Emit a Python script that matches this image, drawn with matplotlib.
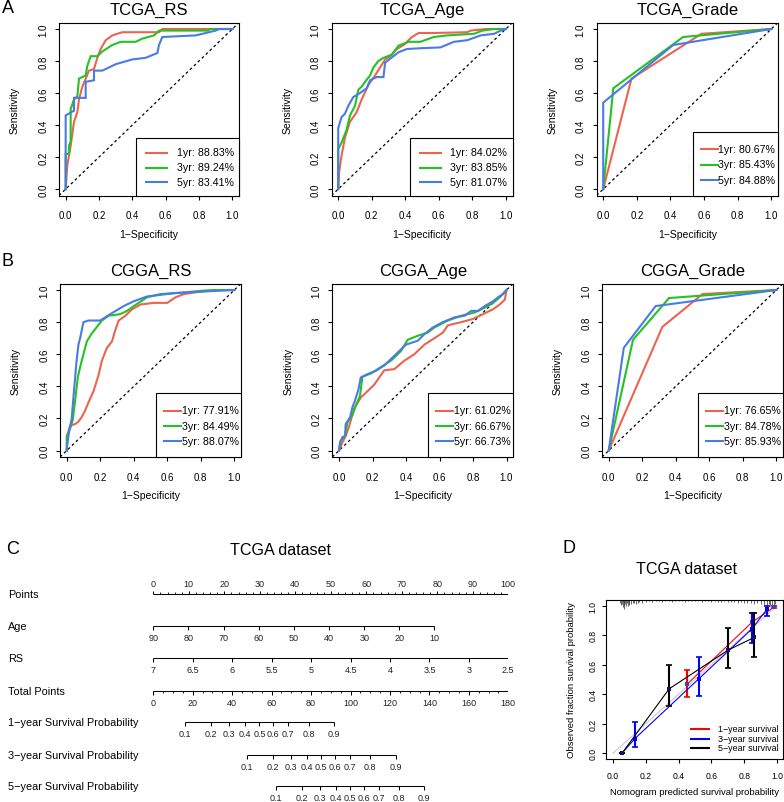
import numpy as np
import matplotlib
matplotlib.use('Agg')
import matplotlib.pyplot as plt
from matplotlib.lines import Line2D
from matplotlib.patches import Rectangle

plt.rcParams['font.family'] = ['Liberation Sans', 'DejaVu Sans']

# ---------------------------------------------------------------- data
roc_years = ['1yr', '3yr', '5yr']
roc_colors = ['#EC6350', '#22C322', '#4A7AE6']

auc_tcga_rs = [88.83, 89.24, 83.41]
auc_tcga_age = [84.02, 83.85, 81.07]
auc_tcga_grade = [80.67, 85.43, 84.88]
auc_cgga_rs = [77.91, 84.49, 88.07]
auc_cgga_age = [61.02, 66.67, 66.73]
auc_cgga_grade = [76.65, 84.78, 85.93]

# TCGA_RS
tcga_rs_fpr_1 = [0, 0.01, 0.03, 0.05, 0.07, 0.08, 0.10, 0.12, 0.14, 0.17, 0.19, 0.21, 0.24, 0.28, 0.34, 0.56, 0.58, 1.0]
tcga_rs_tpr_1 = [0, 0.15, 0.27, 0.42, 0.48, 0.56, 0.64, 0.69, 0.74, 0.75, 0.82, 0.875, 0.93, 0.96, 0.98, 0.98, 1.0, 1.0]
tcga_rs_fpr_3 = [0, 0, 0.02, 0.02, 0.03, 0.03, 0.05, 0.07, 0.08, 0.12, 0.13, 0.15, 0.19, 0.22, 0.28, 0.33, 0.42, 0.46, 0.53, 0.56, 0.85, 0.87, 1.0]
tcga_rs_tpr_3 = [0, 0.22, 0.22, 0.27, 0.30, 0.50, 0.56, 0.58, 0.69, 0.71, 0.77, 0.83, 0.83, 0.86, 0.90, 0.92, 0.92, 0.94, 0.96, 0.99, 0.99, 1.0, 1.0]
tcga_rs_fpr_5 = [0, 0, 0.05, 0.05, 0.12, 0.12, 0.17, 0.17, 0.22, 0.30, 0.40, 0.48, 0.55, 0.56, 0.58, 0.78, 0.90, 0.92, 1.0]
tcga_rs_tpr_5 = [0, 0.46, 0.49, 0.57, 0.57, 0.67, 0.68, 0.74, 0.74, 0.78, 0.81, 0.82, 0.85, 0.90, 0.95, 0.96, 0.99, 1.0, 1.0]

# TCGA_Age
tcga_age_fpr_1 = [0, 0.006, 0.02, 0.04, 0.07, 0.11, 0.14, 0.18, 0.22, 0.25, 0.28, 0.31, 0.35, 0.39, 0.44, 0.48, 0.57, 0.77, 0.79, 0.88, 1.0]
tcga_age_tpr_1 = [0, 0.11, 0.21, 0.32, 0.42, 0.48, 0.56, 0.65, 0.71, 0.76, 0.81, 0.83, 0.875, 0.90, 0.95, 0.975, 0.975, 0.98, 0.99, 1.0, 1.0]
tcga_age_fpr_3 = [0, 0, 0.02, 0.05, 0.07, 0.10, 0.12, 0.14, 0.16, 0.19, 0.21, 0.24, 0.27, 0.32, 0.36, 0.42, 0.49, 0.57, 0.65, 0.81, 0.86, 0.93, 1.0]
tcga_age_tpr_3 = [0, 0.25, 0.29, 0.37, 0.46, 0.52, 0.62, 0.64, 0.67, 0.71, 0.76, 0.80, 0.82, 0.84, 0.896, 0.92, 0.92, 0.95, 0.96, 0.97, 0.99, 1.0, 1.0]
tcga_age_fpr_5 = [0, 0, 0.02, 0.04, 0.06, 0.09, 0.13, 0.17, 0.19, 0.23, 0.27, 0.28, 0.36, 0.41, 0.49, 0.61, 0.69, 0.77, 0.85, 0.93, 0.97, 1.0]
tcga_age_tpr_5 = [0, 0.38, 0.45, 0.47, 0.52, 0.575, 0.60, 0.63, 0.68, 0.70, 0.70, 0.79, 0.855, 0.875, 0.88, 0.885, 0.92, 0.93, 0.96, 0.97, 0.99, 1.0]

# TCGA_Grade
tcga_grade_fpr_1 = [0, 0.168, 0.584, 1.0]
tcga_grade_tpr_1 = [0, 0.69, 0.97, 1.0]
tcga_grade_fpr_3 = [0, 0.06, 0.475, 1.0]
tcga_grade_tpr_3 = [0, 0.63, 0.95, 1.0]
tcga_grade_fpr_5 = [0, 0, 0.416, 1.0]
tcga_grade_tpr_5 = [0, 0.54, 0.90, 1.0]

# CGGA_RS
cgga_rs_fpr_1 = [0, 0.005, 0.02, 0.05, 0.07, 0.09, 0.11, 0.13, 0.16, 0.19, 0.21, 0.24, 0.27, 0.29, 0.31, 0.35, 0.39, 0.44, 0.52, 0.60, 0.65, 0.70, 0.80, 0.89, 1.0]
cgga_rs_tpr_1 = [0, 0.10, 0.155, 0.165, 0.18, 0.21, 0.25, 0.30, 0.37, 0.47, 0.56, 0.64, 0.68, 0.75, 0.81, 0.84, 0.88, 0.91, 0.92, 0.92, 0.955, 0.975, 0.99, 1.0, 1.0]
cgga_rs_fpr_3 = [0, 0, 0.02, 0.036, 0.05, 0.066, 0.08, 0.10, 0.12, 0.15, 0.18, 0.21, 0.25, 0.32, 0.36, 0.40, 0.48, 0.56, 0.70, 0.80, 0.89, 1.0]
cgga_rs_tpr_3 = [0, 0.09, 0.135, 0.19, 0.31, 0.455, 0.52, 0.60, 0.68, 0.73, 0.77, 0.81, 0.84, 0.85, 0.87, 0.90, 0.955, 0.975, 0.985, 0.995, 1.0, 1.0]
cgga_rs_fpr_5 = [0, 0.006, 0.015, 0.03, 0.04, 0.05, 0.057, 0.07, 0.08, 0.10, 0.13, 0.20, 0.26, 0.34, 0.40, 0.48, 0.64, 0.80, 1.0]
cgga_rs_tpr_5 = [0, 0.06, 0.124, 0.20, 0.33, 0.45, 0.54, 0.66, 0.70, 0.80, 0.81, 0.81, 0.85, 0.90, 0.93, 0.96, 0.98, 0.99, 1.0]

# CGGA_Age
cgga_age_fpr_1 = [0, 0.02, 0.04, 0.06, 0.09, 0.13, 0.17, 0.21, 0.24, 0.27, 0.33, 0.39, 0.45, 0.51, 0.57, 0.62, 0.65, 0.73, 0.80, 0.86, 0.92, 0.96, 0.99, 1.0]
cgga_age_tpr_1 = [0, 0.05, 0.09, 0.15, 0.26, 0.33, 0.37, 0.41, 0.455, 0.50, 0.507, 0.56, 0.60, 0.66, 0.70, 0.735, 0.78, 0.80, 0.82, 0.85, 0.88, 0.91, 0.94, 1.0]
cgga_age_fpr_3 = [0, 0.01, 0.036, 0.05, 0.08, 0.10, 0.125, 0.14, 0.19, 0.25, 0.31, 0.37, 0.41, 0.47, 0.53, 0.57, 0.65, 0.73, 0.81, 0.87, 0.92, 0.96, 1.0]
cgga_age_tpr_3 = [0, 0.06, 0.09, 0.175, 0.22, 0.28, 0.34, 0.46, 0.48, 0.52, 0.56, 0.62, 0.69, 0.715, 0.735, 0.767, 0.81, 0.84, 0.86, 0.89, 0.92, 0.955, 1.0]
cgga_age_fpr_5 = [0, 0.006, 0.02, 0.036, 0.04, 0.066, 0.08, 0.095, 0.116, 0.13, 0.17, 0.22, 0.27, 0.32, 0.36, 0.40, 0.47, 0.51, 0.56, 0.62, 0.69, 0.75, 0.79, 0.83, 0.87, 0.92, 0.95, 0.98, 1.0]
cgga_age_tpr_5 = [0, 0.05, 0.083, 0.093, 0.166, 0.207, 0.27, 0.31, 0.38, 0.455, 0.476, 0.497, 0.53, 0.58, 0.62, 0.66, 0.684, 0.725, 0.767, 0.80, 0.83, 0.84, 0.87, 0.87, 0.90, 0.93, 0.955, 0.975, 1.0]

# CGGA_Grade
cgga_grade_fpr_1 = [0, 0.32, 0.56, 1.0]
cgga_grade_tpr_1 = [0, 0.77, 0.975, 1.0]
cgga_grade_fpr_3 = [0, 0.145, 0.36, 1.0]
cgga_grade_tpr_3 = [0, 0.69, 0.95, 1.0]
cgga_grade_fpr_5 = [0, 0.09, 0.28, 1.0]
cgga_grade_tpr_5 = [0, 0.64, 0.90, 1.0]

# Nomogram (TCGA)
nomo_points_ticks = [0, 10, 20, 30, 40, 50, 60, 70, 80, 90, 100]
nomo_age_ticks = [90, 80, 70, 60, 50, 40, 30, 20, 10]
nomo_age_points = [0.0, 9.9, 19.8, 29.7, 39.6, 49.5, 59.4, 69.3, 79.2]
nomo_rs_ticks = ['7', '6.5', '6', '5.5', '5', '4.5', '4', '3.5', '3', '2.5']
nomo_rs_points = [0.0, 11.1, 22.2, 33.3, 44.4, 55.6, 66.7, 77.8, 88.9, 100.0]
nomo_total_ticks = [0, 20, 40, 60, 80, 100, 120, 140, 160, 180]
nomo_surv_ticks = ['0.1', '0.2', '0.3', '0.4', '0.5', '0.6', '0.7', '0.8', '0.9']
nomo_surv1_total = [16.1, 29.3, 38.5, 46.5, 53.8, 60.9, 68.4, 79.0, 91.8]
nomo_surv3_total = [47.4, 60.5, 69.8, 77.8, 85.0, 92.3, 99.7, 109.9, 122.9]
nomo_surv5_total = [62.1, 75.3, 84.5, 92.5, 99.7, 107.0, 114.4, 124.6, 137.4]

# Calibration (TCGA)
cal1_pred = [0.453, 0.848, 0.985]
cal1_obs = [0.469, 0.888, 0.993]
cal1_lo = [0.383, 0.830, 0.985]
cal1_hi = [0.564, 0.950, 1.000]
cal3_pred = [0.055, 0.134, 0.522, 0.845, 0.940]
cal3_obs = [0.000, 0.100, 0.503, 0.840, 0.977]
cal3_lo = [0.000, 0.045, 0.390, 0.750, 0.930]
cal3_hi = [0.000, 0.210, 0.650, 0.950, 1.000]
cal5_pred = [0.055, 0.343, 0.703, 0.862]
cal5_obs = [0.000, 0.437, 0.700, 0.785]
cal5_lo = [0.000, 0.322, 0.577, 0.654]
cal5_hi = [0.000, 0.600, 0.848, 0.950]
rug_pred = [0.04, 0.05, 0.055, 0.06, 0.065, 0.07, 0.075, 0.08, 0.085, 0.09,
            0.095, 0.10, 0.11, 0.12, 0.13, 0.14, 0.15, 0.16, 0.18, 0.20,
            0.22, 0.24, 0.26, 0.28, 0.30, 0.32, 0.34, 0.36, 0.38, 0.40,
            0.42, 0.44, 0.46, 0.48, 0.50, 0.52, 0.54, 0.56, 0.58, 0.60,
            0.62, 0.64, 0.66, 0.68, 0.70, 0.72, 0.74, 0.76, 0.78, 0.80,
            0.82, 0.84, 0.86, 0.88, 0.90, 0.92, 0.94, 0.95, 0.96, 0.97,
            0.98, 0.99]
rug_len = [0.020, 0.035, 0.030, 0.050, 0.040, 0.060, 0.030, 0.045, 0.025, 0.040,
           0.030, 0.035, 0.030, 0.025, 0.020, 0.030, 0.020, 0.015, 0.020, 0.015,
           0.010, 0.015, 0.010, 0.010, 0.015, 0.010, 0.010, 0.012, 0.010, 0.008,
           0.010, 0.012, 0.008, 0.010, 0.010, 0.008, 0.012, 0.010, 0.010, 0.012,
           0.010, 0.015, 0.012, 0.010, 0.015, 0.012, 0.015, 0.020, 0.015, 0.020,
           0.025, 0.020, 0.030, 0.025, 0.030, 0.035, 0.040, 0.030, 0.045, 0.035,
           0.040, 0.030]

# ---------------------------------------------------------------- layout helpers
W, H = 784, 803
fig = plt.figure(figsize=(W / 100, H / 100), dpi=100)


def px_axes(l, t, r, b):
    return fig.add_axes([l / W, 1 - b / H, (r - l) / W, (b - t) / H])


def ftext(x, y, s, **kw):
    return fig.text(x / W, 1 - y / H, s, **kw)


def fline(x0, x1, y0, y1, **kw):
    fig.add_artist(Line2D([x0 / W, x1 / W], [1 - y0 / H, 1 - y1 / H],
                          transform=fig.transFigure, **kw))


def frect(l, t, r, b, **kw):
    fig.add_artist(Rectangle((l / W, 1 - b / H), (r - l) / W, (b - t) / H,
                             transform=fig.transFigure, **kw))


# ---------------------------------------------------------------- ROC panels
roc_panels = [
    ('TCGA_RS', auc_tcga_rs, [(tcga_rs_fpr_1, tcga_rs_tpr_1), (tcga_rs_fpr_3, tcga_rs_tpr_3), (tcga_rs_fpr_5, tcga_rs_tpr_5)]),
    ('TCGA_Age', auc_tcga_age, [(tcga_age_fpr_1, tcga_age_tpr_1), (tcga_age_fpr_3, tcga_age_tpr_3), (tcga_age_fpr_5, tcga_age_tpr_5)]),
    ('TCGA_Grade', auc_tcga_grade, [(tcga_grade_fpr_1, tcga_grade_tpr_1), (tcga_grade_fpr_3, tcga_grade_tpr_3), (tcga_grade_fpr_5, tcga_grade_tpr_5)]),
    ('CGGA_RS', auc_cgga_rs, [(cgga_rs_fpr_1, cgga_rs_tpr_1), (cgga_rs_fpr_3, cgga_rs_tpr_3), (cgga_rs_fpr_5, cgga_rs_tpr_5)]),
    ('CGGA_Age', auc_cgga_age, [(cgga_age_fpr_1, cgga_age_tpr_1), (cgga_age_fpr_3, cgga_age_tpr_3), (cgga_age_fpr_5, cgga_age_tpr_5)]),
    ('CGGA_Grade', auc_cgga_grade, [(cgga_grade_fpr_1, cgga_grade_tpr_1), (cgga_grade_fpr_3, cgga_grade_tpr_3), (cgga_grade_fpr_5, cgga_grade_tpr_5)]),
]
roc_boxes = [(59, 23.6, 239, 196.5), (331.5, 23.6, 512.5, 196.5), (596.5, 23.6, 778, 196.5),
             (60, 284.6, 241, 458), (332.3, 284.6, 513.2, 458), (602, 284.6, 783, 458)]
legend_style = ['A', 'A', 'B', 'B', 'B', 'B']

tick_vals = [0, 0.2, 0.4, 0.6, 0.8, 1.0]
tick_labs = ['0.0', '0.2', '0.4', '0.6', '0.8', '1.0']

for (title, aucs, curves), box, lst in zip(roc_panels, roc_boxes, legend_style):
    l, t, r, b = box
    ax = px_axes(l, t, r, b)
    ax.set_xlim(-0.04, 1.04)
    ax.set_ylim(-0.04, 1.04)
    ax.plot([-0.04, 1.04], [-0.04, 1.04], color='black', lw=0.9, ls=(0, (2.2, 2.2)))
    for (fpr, tpr), col in zip(curves, roc_colors):
        ax.plot(fpr, tpr, color=col, lw=1.5, solid_joinstyle='miter')
    ax.set_xticks(tick_vals)
    ax.set_xticklabels(tick_labs)
    ax.set_yticks(tick_vals)
    ax.set_yticklabels(tick_labs, rotation=90, va='center')
    ax.tick_params(axis='both', labelsize=7, length=3.2, width=0.8, color='black')
    ax.tick_params(axis='x', pad=7.5)
    ax.tick_params(axis='y', pad=4.5)
    for s in ax.spines.values():
        s.set_linewidth(0.8)
    ax.set_xlabel('1\u2212Specificity', fontsize=7.5)
    ax.set_ylabel('Sensitivity', fontsize=7.5)
    ax.xaxis.set_label_coords(0.5, -38.5 / (b - t))
    ax.yaxis.set_label_coords(-44 / (r - l), 0.5)
    ax.xaxis.label.set_va('center')
    ax.yaxis.label.set_va('center')
    ftext((l + r) / 2, t - 13.6, title, fontsize=12, ha='center', va='center')

    # legend (R style, bottom right)
    if lst == 'A':
        lw_, lh_, l0, l1, tx, rows = 103, 58, 10, 31, 41, [15, 30, 44]
    else:
        lw_, lh_, l0, l1, tx, rows = 85, 64, 8, 25, 25.5, [17.5, 33, 48]
    bl, bt = r - lw_, b - lh_
    frect(bl, bt, r, b, facecolor='white', edgecolor='black', lw=0.8, zorder=3)
    for yr, auc, col, dy in zip(roc_years, aucs, roc_colors, rows):
        fline(bl + l0, bl + l1, bt + dy, bt + dy, color=col, lw=1.5, zorder=4)
        ftext(bl + tx, bt + dy, f'{yr}: {auc:.2f}%', fontsize=7.7, ha='left', va='center', zorder=4)

# panel letters
ftext(7.5, 8.5, 'A', fontsize=13, ha='center', va='center')
ftext(7.5, 262, 'B', fontsize=13, ha='center', va='center')
ftext(13, 550, 'C', fontsize=13, ha='center', va='center')
ftext(568.5, 549, 'D', fontsize=13, ha='center', va='center')

# ---------------------------------------------------------------- nomogram
axn = px_axes(153.3, 560, 508.3, 803)
axn.set_xlim(0, 100)
axn.set_ylim(803, 560)
axn.axis('off')
ftext(281, 551, 'TCGA dataset', fontsize=11.6, ha='center', va='center')

nlw = 0.75
lab_fs = 7.8
tick_fs = 6.5
tick_col = '#222222'
row_y = {'Points': 595, 'Age': 627, 'RS': 659, 'Total Points': 692,
         '1\u2212year Survival Probability': 723,
         '3\u2212year Survival Probability': 756,
         '5\u2212year Survival Probability': 787}
for name, yy in row_y.items():
    ftext(8, yy, name, fontsize=lab_fs, ha='left', va='center')


def scale_row(ax, pos, labels, y, down=4.0, lab_off=12.0, minor=None, up=False):
    ax.plot([pos[0], pos[-1]], [y, y], color='black', lw=nlw, solid_capstyle='butt')
    sgn = -1 if up else 1
    for p, s in zip(pos, labels):
        ax.plot([p, p], [y, y + sgn * down], color='black', lw=nlw, solid_capstyle='butt')
        ax.text(p, y + sgn * lab_off, s, fontsize=tick_fs, ha='center', va='center', color=tick_col)
    if minor is not None:
        for p in minor:
            ax.plot([p, p], [y, y + sgn * down * 0.5], color='black', lw=nlw * 0.8, solid_capstyle='butt')


pts_minor = [v for v in np.arange(0, 100.1, 2) if v % 10 != 0]
scale_row(axn, nomo_points_ticks, [str(v) for v in nomo_points_ticks], row_y['Points'],
          down=3.5, lab_off=10.5, minor=pts_minor, up=True)
scale_row(axn, nomo_age_points, [str(v) for v in nomo_age_ticks], row_y['Age'])
scale_row(axn, nomo_rs_points, nomo_rs_ticks, row_y['RS'])
tot_pos = [v * 100 / 180 for v in nomo_total_ticks]
tot_minor = [v * 100 / 180 for v in np.arange(0, 180.1, 5) if v % 20 != 0]
scale_row(axn, tot_pos, [str(v) for v in nomo_total_ticks], row_y['Total Points'],
          down=3.5, lab_off=11.5, minor=tot_minor)
for key, surv in zip(['1\u2212year Survival Probability', '3\u2212year Survival Probability',
                      '5\u2212year Survival Probability'],
                     [nomo_surv1_total, nomo_surv3_total, nomo_surv5_total]):
    scale_row(axn, [v * 100 / 180 for v in surv], nomo_surv_ticks, row_y[key], lab_off=11.5)

# ---------------------------------------------------------------- calibration
axc = px_axes(606.4, 600.8, 783.5, 760.2)
axc.set_xlim(-0.04, 1.04)
axc.set_ylim(-0.04, 1.04)
axc.plot([0, 1], [0, 1], color='#CFCFCF', lw=0.9)
axc.vlines(rug_pred, [1.04 - v for v in rug_len], 1.04, color='#505050', lw=0.6)
cal_sets = [(cal1_pred, cal1_obs, cal1_lo, cal1_hi, '#FF0000', '#4040C0'),
            (cal3_pred, cal3_obs, cal3_lo, cal3_hi, '#0000FF', '#0000FF'),
            (cal5_pred, cal5_obs, cal5_lo, cal5_hi, '#000000', '#101070')]
for pred, obs, lo, hi, col, pcol in cal_sets:
    obs_a = np.array(obs)
    axc.plot(pred, obs, color=col, lw=0.8)
    axc.errorbar(pred, obs, yerr=[obs_a - np.array(lo), np.array(hi) - obs_a], fmt='none',
                 ecolor=col, elinewidth=1.5, capsize=2.2, capthick=1.2)
    axc.plot(pred, obs, 's', color=pcol, ms=3.2, mew=0)
axc.set_xticks(tick_vals)
axc.set_xticklabels(tick_labs)
axc.set_yticks(tick_vals)
axc.set_yticklabels(tick_labs, rotation=90, va='center')
axc.tick_params(axis='both', labelsize=6.2, length=3.0, width=0.8)
axc.tick_params(axis='x', pad=5.5)
axc.tick_params(axis='y', pad=3.5)
for s in axc.spines.values():
    s.set_linewidth(0.8)
axc.set_xlabel('Nomogram predicted survival probability', fontsize=6.8)
axc.set_ylabel('Observed fraction survival probability', fontsize=6.8)
axc.xaxis.set_label_coords(0.5, -32.5 / 159.4)
axc.yaxis.set_label_coords(-34.7 / 177.1, 0.5)
axc.xaxis.label.set_va('center')
axc.yaxis.label.set_va('center')
ftext(686.5, 570, 'TCGA dataset', fontsize=11.6, ha='center', va='center')

for lab, col, yy in zip(['1\u2212year survival', '3\u2212year survival', '5\u2212year survival'],
                        ['#FF0000', '#0000FF', '#000000'], [730, 739.5, 749]):
    fline(691, 709, yy, yy, color=col, lw=1.5, zorder=4)
    ftext(718, yy, lab, fontsize=6.4, ha='left', va='center', zorder=4)

fig.savefig('out.png', dpi=100)
